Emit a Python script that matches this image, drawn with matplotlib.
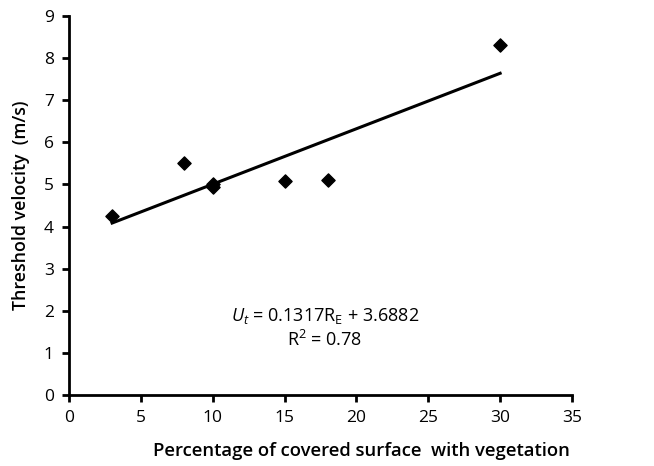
import numpy as np
import matplotlib.pyplot as plt

plt.rcParams['font.family'] = ['Open Sans', 'DejaVu Sans']
plt.rcParams['mathtext.fontset'] = 'custom'
plt.rcParams['mathtext.it'] = 'Open Sans:italic'
plt.rcParams['mathtext.rm'] = 'Open Sans'

# data
cover = [3, 8, 10, 10, 15, 18, 30]
velocity = [4.25, 5.5, 4.95, 5.0, 5.07, 5.1, 8.3]
slope, intercept = 0.1317, 3.6882

fig = plt.figure(figsize=(6.54, 4.66), dpi=100)
ax = fig.add_axes([0.1055, 0.1524, 0.7691, 0.8133])

xfit = np.array([min(cover), max(cover)])
ax.plot(xfit, slope * xfit + intercept, color='black', lw=2.2, zorder=2)
ax.scatter(cover, velocity, marker='D', s=45, color='black', zorder=3)

ax.set_xlim(0, 35)
ax.set_ylim(0, 9)
ax.set_xticks(range(0, 36, 5))
ax.set_yticks(range(0, 10))
for s in ['top', 'right']:
    ax.spines[s].set_visible(False)
for s in ['left', 'bottom']:
    ax.spines[s].set_linewidth(2)
ax.tick_params(width=2, length=5, labelsize=12.5, direction='out', pad=6)
for lab in ax.get_xticklabels() + ax.get_yticklabels():
    lab.set_fontweight('medium')

ax.set_xlabel('Percentage of covered surface  with vegetation', fontsize=13.3,
              fontweight='semibold')
ax.xaxis.set_label_coords(0.582, -0.125)
ax.set_ylabel('Threshold velocity  (m/s)', fontsize=12.8, fontweight='semibold', labelpad=10)

ax.text(17.8, 1.88, r'$U_t$ = 0.1317R$_\mathrm{E}$ + 3.6882', fontsize=13,
        ha='center', va='center')
ax.text(17.8, 1.3, r'R$^2$ = 0.78', fontsize=13, ha='center', va='center')

fig.savefig('out.png', dpi=100)
